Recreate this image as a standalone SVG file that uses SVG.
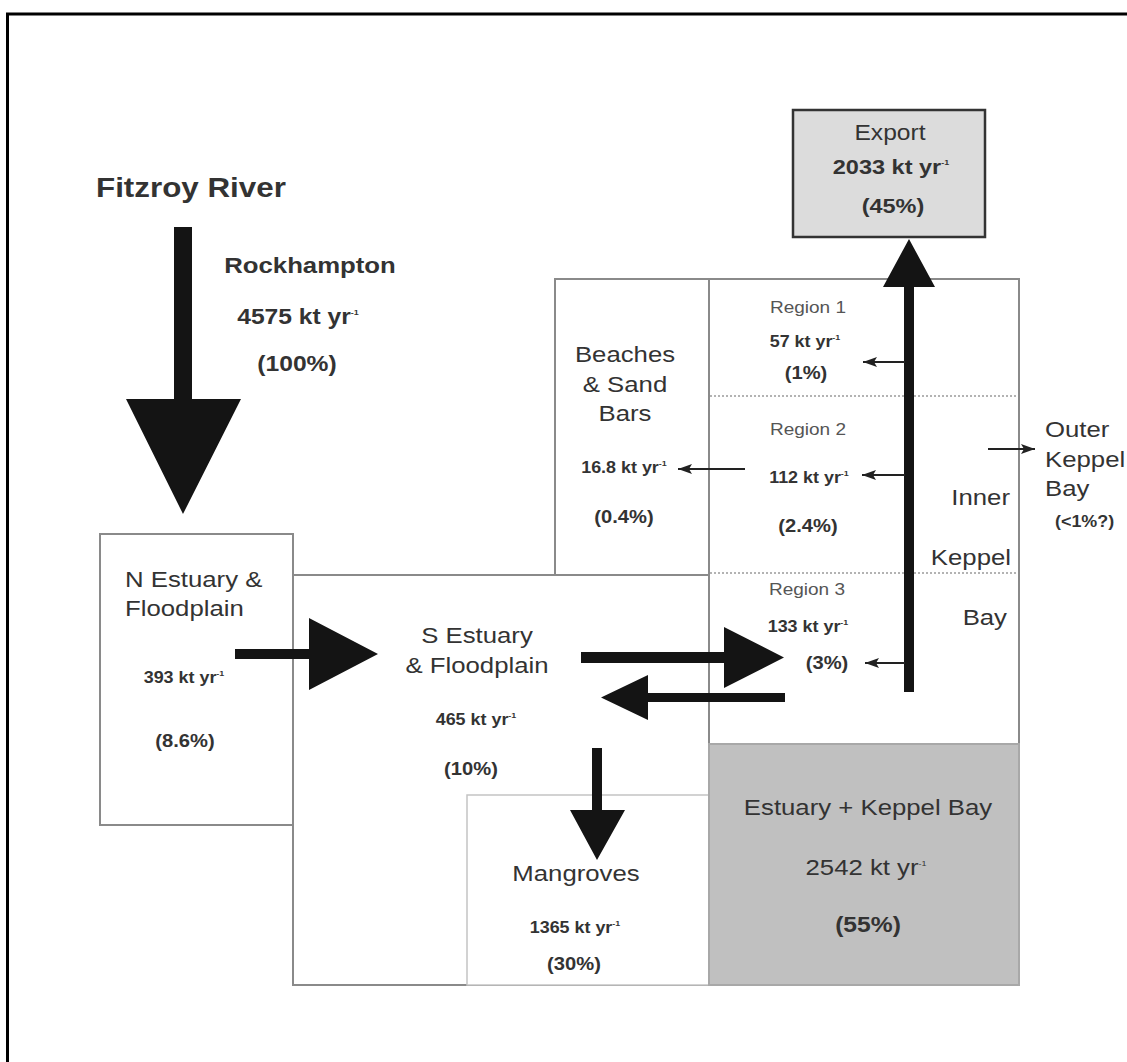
<svg xmlns="http://www.w3.org/2000/svg" width="1127" height="1062" viewBox="0 0 1127 1062">
<defs>
<style>
.frame{fill:none;stroke:#000;stroke-width:3}
.box{fill:#fff;stroke:#8a8a8a;stroke-width:2}
.lite{fill:#fff;stroke:#c4c4c4;stroke-width:1.5}
.exp{fill:#dcdcdc;stroke:#333;stroke-width:2.5}
.gray{fill:#c0c0c0;stroke:#a8a8a8;stroke-width:2}
.dot{fill:none;stroke:#9a9a9a;stroke-width:1.5;stroke-dasharray:2 2}
.big{fill:#141414}
.thin{fill:none;stroke:#222;stroke-width:2}
text{font-family:"Liberation Sans",Arial,Helvetica,sans-serif;fill:#333}
.m{text-anchor:middle}
.e{text-anchor:end}
.b{font-weight:bold}
.L{font-size:23px}
.R{font-size:17px;fill:#555}
.v{font-size:16px;font-weight:bold}
.p{font-size:18px;font-weight:bold}
.s{font-size:8px}
</style>
<marker id="ah" viewBox="0 0 14 10" refX="14" refY="5" markerWidth="14" markerHeight="10" markerUnits="userSpaceOnUse" orient="auto">
<path d="M0,0 L14,5 L0,10 L3,5 Z" fill="#222"/>
</marker>
</defs>

<path class="frame" d="M7.5,1062 V14 H1127"/>

<g id="title">
<text class="b" font-size="28" transform="translate(96,197) scale(1.12,1)">Fitzroy River</text>
</g>

<g id="rockhampton">
<text class="m b" font-size="23" transform="translate(310,273) scale(1.12,1)">Rockhampton</text>
<text class="m b" font-size="22" transform="translate(298,324) scale(1.12,1)">4575 kt yr<tspan class="s" dy="-9">-1</tspan></text>
<text class="m b" font-size="22" transform="translate(297,371) scale(1.12,1)">(100%)</text>
</g>

<g id="export">
<rect class="exp" x="793" y="110" width="192" height="127"/>
<text class="m" font-size="22" transform="translate(890,140) scale(1.12,1)">Export</text>
<text class="m b" font-size="21" transform="translate(891,174) scale(1.12,1)">2033 kt yr<tspan class="s" dy="-9">-1</tspan></text>
<text class="m b" font-size="21" transform="translate(893,213) scale(1.12,1)">(45%)</text>
</g>

<g id="beaches">
<rect class="box" x="555" y="279" width="154" height="296"/>
<text class="m L" transform="translate(625,362) scale(1.12,1)">Beaches</text>
<text class="m L" transform="translate(625,392) scale(1.12,1)">&amp; Sand</text>
<text class="m L" transform="translate(625,421) scale(1.12,1)">Bars</text>
<text class="m v" transform="translate(624,473) scale(1.12,1)">16.8 kt yr<tspan class="s" dy="-7">-1</tspan></text>
<text class="m p" transform="translate(624,523) scale(1.12,1)">(0.4%)</text>
</g>

<g id="inner-keppel-bay">
<rect class="box" x="709" y="279" width="310" height="465"/>
<line class="dot" x1="710" y1="396" x2="1018" y2="396"/>
<line class="dot" x1="710" y1="573" x2="1018" y2="573"/>
<text class="e L" transform="translate(1010,505) scale(1.12,1)">Inner</text>
<text class="e L" transform="translate(1011,565) scale(1.12,1)">Keppel</text>
<text class="e L" transform="translate(1007,625) scale(1.12,1)">Bay</text>
</g>

<g id="region1">
<text class="m R" transform="translate(808,313) scale(1.12,1)">Region 1</text>
<text class="m v" transform="translate(805,347) scale(1.12,1)">57 kt yr<tspan class="s" dy="-7">-1</tspan></text>
<text class="m p" transform="translate(806,379) scale(1.12,1)">(1%)</text>
</g>

<g id="region2">
<text class="m R" transform="translate(808,435) scale(1.12,1)">Region 2</text>
<text class="m v" transform="translate(809,483) scale(1.12,1)">112 kt yr<tspan class="s" dy="-7">-1</tspan></text>
<text class="m p" transform="translate(808,532) scale(1.12,1)">(2.4%)</text>
</g>

<g id="region3">
<text class="m R" transform="translate(807,595) scale(1.12,1)">Region 3</text>
<text class="m v" transform="translate(808,632) scale(1.12,1)">133 kt yr<tspan class="s" dy="-7">-1</tspan></text>
<text class="m p" transform="translate(827,669) scale(1.12,1)">(3%)</text>
</g>

<g id="outer-keppel-bay">
<text class="L" transform="translate(1045,437) scale(1.12,1)">Outer</text>
<text class="L" transform="translate(1045,467) scale(1.12,1)">Keppel</text>
<text class="L" transform="translate(1045,496) scale(1.12,1)">Bay</text>
<text class="v" font-size="17" transform="translate(1055,527) scale(1.12,1)">(&lt;1%?)</text>
</g>

<g id="n-estuary">
<rect class="box" x="100" y="534" width="193" height="291"/>
<text class="L" transform="translate(125,587) scale(1.12,1)">N Estuary &amp;</text>
<text class="L" transform="translate(125,616) scale(1.12,1)">Floodplain</text>
<text class="m v" font-size="15" transform="translate(184,683) scale(1.12,1)">393 kt yr<tspan class="s" dy="-7">-1</tspan></text>
<text class="m p" transform="translate(185,747) scale(1.12,1)">(8.6%)</text>
</g>

<g id="s-estuary">
<rect class="box" x="293" y="575" width="416" height="410"/>
<text class="m L" font-size="24" transform="translate(477,643) scale(1.12,1)">S Estuary</text>
<text class="m L" font-size="24" transform="translate(477,673) scale(1.12,1)">&amp; Floodplain</text>
<text class="m v" font-size="15" transform="translate(476,725) scale(1.12,1)">465 kt yr<tspan class="s" dy="-7">-1</tspan></text>
<text class="m p" transform="translate(471,775) scale(1.12,1)">(10%)</text>
</g>

<g id="mangroves">
<rect class="lite" x="467" y="795" width="242" height="190"/>
<text class="m L" transform="translate(576,881) scale(1.12,1)">Mangroves</text>
<text class="m v" font-size="15" transform="translate(575,933) scale(1.12,1)">1365 kt yr<tspan class="s" dy="-7">-1</tspan></text>
<text class="m p" transform="translate(574,970) scale(1.12,1)">(30%)</text>
</g>

<g id="estuary-keppel-bay">
<rect class="gray" x="709" y="744" width="310" height="241"/>
<text class="m L" font-size="22" transform="translate(868,815) scale(1.12,1)">Estuary + Keppel Bay</text>
<text class="m L" font-size="22" transform="translate(866,875) scale(1.12,1)">2542 kt yr<tspan class="s" dy="-9">-1</tspan></text>
<text class="m b" font-size="22" transform="translate(868,932) scale(1.12,1)">(55%)</text>
</g>

<g id="connectors">
<polygon class="big" points="174,227 192,227 192,399 241,399 183,514 126,399 174,399"/>
<polygon class="big" points="235,649 309,649 309,618 378,654 309,690 309,659 235,659"/>
<polygon class="big" points="581,652 724,652 724,627 784,657.5 724,688 724,663 581,663"/>
<polygon class="big" points="785,693 648,693 648,675 601,697.5 648,720 648,702 785,702"/>
<polygon class="big" points="592,748 602,748 602,810 625,810 597,860 570,810 592,810"/>
<polygon class="big" points="904,692 904,287 883,287 909,239 935,287 914,287 914,692"/>
<line class="thin" x1="905" y1="362" x2="863" y2="362" marker-end="url(#ah)"/>
<line class="thin" x1="905" y1="475" x2="862" y2="475" marker-end="url(#ah)"/>
<line class="thin" x1="905" y1="663" x2="865" y2="663" marker-end="url(#ah)"/>
<line class="thin" x1="745" y1="469" x2="678" y2="469" marker-end="url(#ah)"/>
<line class="thin" x1="988" y1="449" x2="1035" y2="449" marker-end="url(#ah)"/>
</g>
</svg>
